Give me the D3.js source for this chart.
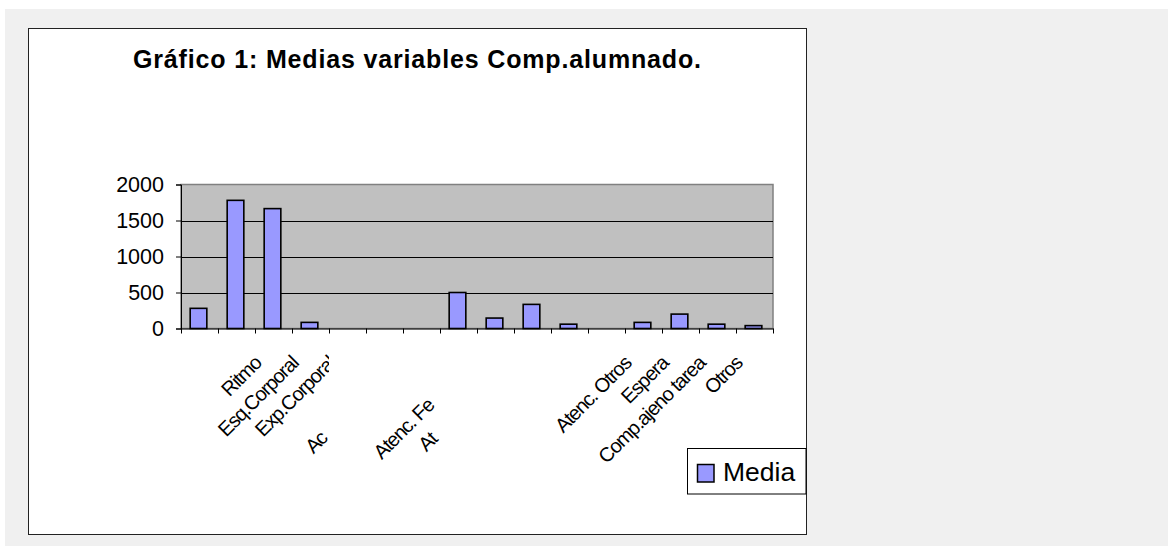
<!DOCTYPE html>
<html>
<head>
<meta charset="utf-8">
<script src="https://cdn.jsdelivr.net/npm/d3@7"></script>
<style>
  html, body { margin: 0; padding: 0; background: #ffffff; }
  svg { display: block; }
  text { font-family: "Liberation Sans", Arial, sans-serif; }
</style>
</head>
<body>
<svg id="chart" width="1174" height="546"></svg>
<script>
// ---- data ----
const chartTitle = "Gráfico 1: Medias variables Comp.alumnado.";
const seriesName = "Media";
const categories = ["", "Ritmo", "Esq.Corporal", "Exp.Corporal", "Ac", "", "Atenc. Fe", "At", "", "", "", "Atenc. Otros", "Espera", "Comp.ajeno tarea", "Otros", ""];
const values = [280, 1780, 1665, 85, 0, 0, 0, 500, 145, 335, 60, 0, 85, 200, 60, 40];
const yTicks = [0, 500, 1000, 1500, 2000];

// ---- layout ----
const W = 1174, H = 546;
const box = { x: 28, y: 28, w: 778, h: 506 };
const plot = { left: 181, right: 773, top: 184.5, bottom: 328.5 };
const barColor = "#9999ff";

const svg = d3.select("#chart");

// page panel
svg.append("rect").attr("x", 5).attr("y", 9).attr("width", 1163).attr("height", H - 9).attr("fill", "#f0f0f0");

// chart box
svg.append("rect")
  .attr("x", box.x + 0.5).attr("y", box.y + 0.5)
  .attr("width", box.w).attr("height", box.h)
  .attr("fill", "#ffffff").attr("stroke", "#222").attr("stroke-width", 1);

// title
svg.append("text")
  .attr("x", box.x + box.w / 2).attr("y", 68)
  .attr("text-anchor", "middle")
  .attr("font-size", 25).attr("font-weight", "bold")
  .attr("textLength", 568).attr("lengthAdjust", "spacing")
  .attr("fill", "#000")
  .text(chartTitle);

// scales
const x = d3.scaleBand().domain(d3.range(categories.length)).range([plot.left, plot.right]).padding(0);
const xEdge = d3.scaleLinear().domain([0, categories.length]).range([plot.left, plot.right]);
const y = d3.scaleLinear().domain([0, 2000]).range([plot.bottom, plot.top]);

// plot area
svg.append("rect")
  .attr("x", plot.left).attr("y", plot.top)
  .attr("width", plot.right - plot.left).attr("height", plot.bottom - plot.top)
  .attr("fill", "#c0c0c0").attr("stroke", "#808080").attr("stroke-width", 1.5);

// gridlines
svg.append("g").selectAll("line")
  .data(yTicks.filter(v => v > 0 && v < 2000))
  .join("line")
  .attr("x1", plot.left).attr("x2", plot.right)
  .attr("y1", d => Math.round(y(d)) + 0.5).attr("y2", d => Math.round(y(d)) + 0.5)
  .attr("stroke", "#000").attr("stroke-width", 1);

// bars
const barW = x.bandwidth() * 0.45;
svg.append("g").selectAll("rect")
  .data(values.map((v, i) => ({ v, i })).filter(d => d.v > 0))
  .join("rect")
  .attr("x", d => x(d.i) + (x.bandwidth() - barW) / 2 - 1)
  .attr("y", d => y(d.v))
  .attr("width", barW)
  .attr("height", d => y(0) - y(d.v))
  .attr("fill", barColor).attr("stroke", "#000").attr("stroke-width", 1.6);

// y axis
const yAxis = svg.append("g")
  .attr("transform", `translate(${plot.left},0)`)
  .call(d3.axisLeft(y).tickValues(yTicks).tickSize(5).tickPadding(12).tickFormat(d3.format("d")));
yAxis.selectAll("path").attr("stroke", "#000");
yAxis.selectAll("line").attr("stroke", "#000");
yAxis.selectAll("text").attr("font-size", 21.5).attr("fill", "#000")
  .attr("font-family", "'Liberation Sans', Arial, sans-serif");

// x axis (ticks at category boundaries)
const xAxis = svg.append("g")
  .attr("transform", `translate(0,${plot.bottom})`)
  .call(d3.axisBottom(xEdge).tickValues(d3.range(categories.length + 1)).tickSize(5).tickSizeOuter(0).tickFormat(""));
xAxis.selectAll("path").attr("stroke", "#000");
xAxis.selectAll("line").attr("stroke", "#000");

// category labels (rotated -45)
const labelFont = 20;
const s2 = Math.SQRT1_2;
// layout: row offset, clip boundary (as category edge index) and lead for partially hidden labels
const clipEdge = { 3: 4, 4: 4, 6: 7, 7: 7 };
const rowDrop = { 4: 66, 6: 66, 7: 66 };
const hiddenLead = { 4: 85, 6: 93, 7: 82 };

const defs = svg.append("defs");
const labelG = svg.append("g");
categories.forEach((c, i) => {
  if (!c) return;
  const bx = x(i) + x.bandwidth() / 2 + 26;
  const by = y(0) + (rowDrop[i] !== undefined ? rowDrop[i] : 36);
  let g = labelG;
  if (clipEdge[i] !== undefined) {
    const id = "clip" + i;
    defs.append("clipPath").attr("id", id)
      .append("rect").attr("x", 0).attr("y", 0)
      .attr("width", xEdge(clipEdge[i])).attr("height", H);
    g = labelG.append("g").attr("clip-path", `url(#${id})`);
  }
  const t = g.append("text")
    .attr("font-size", labelFont).attr("letter-spacing", -1.1).attr("fill", "#000")
    .text(c);
  if (hiddenLead[i] !== undefined) {
    const sx = bx - hiddenLead[i] * s2, sy = by + hiddenLead[i] * s2;
    t.attr("text-anchor", "start").attr("transform", `translate(${sx},${sy}) rotate(-45)`);
  } else {
    t.attr("text-anchor", "end").attr("transform", `translate(${bx},${by}) rotate(-45)`);
  }
});

// legend
const lg = svg.append("g");
lg.append("rect").attr("x", 687.5).attr("y", 448.5).attr("width", 118.5).attr("height", 45.5)
  .attr("fill", "#ffffff").attr("stroke", "#000").attr("stroke-width", 1);
lg.append("rect").attr("x", 697.5).attr("y", 464.5).attr("width", 16.5).attr("height", 17.5)
  .attr("fill", barColor).attr("stroke", "#000").attr("stroke-width", 1.5);
lg.append("text").attr("x", 723).attr("y", 481).attr("font-size", 26.5).attr("fill", "#000").text(seriesName);
</script>
</body>
</html>
